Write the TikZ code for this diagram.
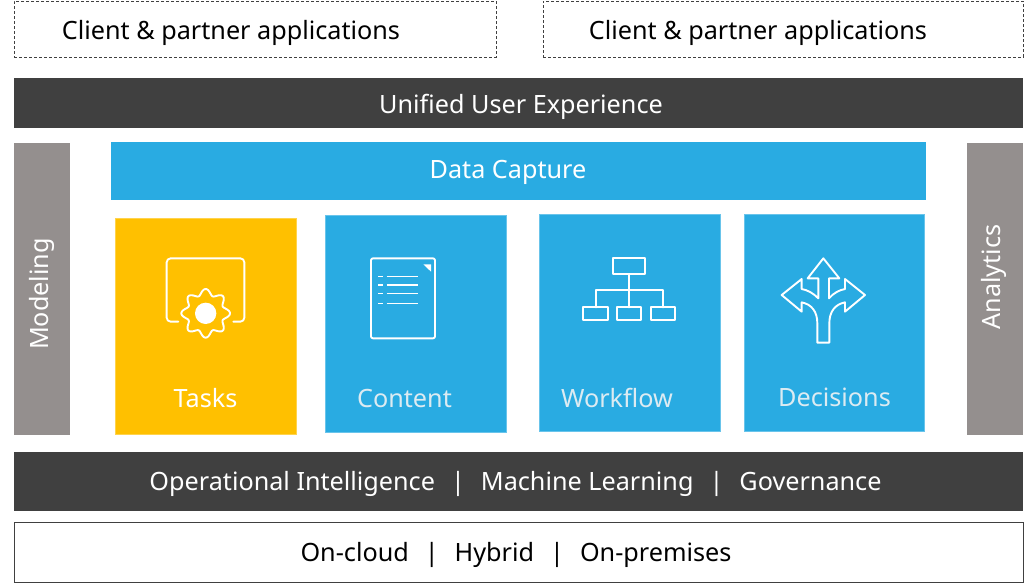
\documentclass[tikz,border=0pt]{standalone}
\usepackage{fontspec}
\setmainfont{Noto Sans}
\definecolor{darkbar}{HTML}{404040}
\definecolor{skyblue}{HTML}{29ABE2}
\definecolor{amber}{HTML}{FFC000}
\definecolor{stone}{HTML}{948F8E}
\definecolor{softwhite}{HTML}{DCEBF2}
\tikzset{
  box/.style={rectangle,inner sep=0pt,outer sep=0pt,align=center},
  dashbox/.style={box,draw=darkbar,densely dashed,line width=0.6pt},
  darkbox/.style={box,fill=darkbar},
  bluebox/.style={box,fill=skyblue},
  greybox/.style={box,fill=stone},
  tile/.style={box,fill=skyblue,draw=skyblue!70!white,line width=0.5pt},
  label/.style={inner sep=0pt,outer sep=0pt,font=\fontsize{25.2}{30}\selectfont},
  icon/.style={draw=white,line width=1.9pt,line join=round,line cap=round},
  iconthin/.style={draw=white,line width=1.4pt,line join=miter}
}
\begin{document}
\begin{tikzpicture}[x=1pt,y=-1pt]
\useasboundingbox (0,0) rectangle (1024,584);
% top boxes
\node[dashbox,minimum width=482pt,minimum height=56pt] (clientA) at (255,29) {};
\node[label,text=black] (clientAt) at (231,33) {Client \& partner applications};
\node[dashbox,minimum width=480pt,minimum height=56pt] (clientB) at (783,29) {};
\node[label,text=black] (clientBt) at (758,33) {Client \& partner applications};
% bars
\node[darkbox,minimum width=1009pt,minimum height=50pt] (ux) at (518.5,103) {};
\node[label,text=white] (uxt) at (521,107) {Unified User Experience};
\node[greybox,minimum width=56pt,minimum height=292pt] (modeling) at (42,289) {};
\node[label,text=white,rotate=90] (modelingt) at (41.5,294) {Modeling};
\node[greybox,minimum width=56pt,minimum height=292pt] (analytics) at (995,289) {};
\node[label,text=white,rotate=90] (analyticst) at (994,277) {Analytics};
\node[bluebox,minimum width=815pt,minimum height=58pt] (capture) at (518.5,171) {};
\node[label,text=white] (capturet) at (508,172) {Data Capture};
% tiles
\node[tile,fill=amber,draw=amber!70!white,minimum width=180.5pt,minimum height=216pt] (tasks) at (205.5,326) {};
\node[label,text=white] (taskst) at (205.5,398.5) {Tasks};
\node[tile,minimum width=180.5pt,minimum height=217pt] (content) at (415.5,323.5) {};
\node[label,text=softwhite] (contentt) at (404.5,398) {Content};
\node[tile,minimum width=180.5pt,minimum height=217pt] (workflow) at (629.5,322.5) {};
\node[label,text=softwhite] (workflowt) at (617,398) {Workflow};
\node[tile,minimum width=180pt,minimum height=217pt] (decisions) at (834,322.5) {};
\node[label,text=softwhite] (decisionst) at (834.5,397) {Decisions};
% bottom bars
\node[darkbox,minimum width=1009pt,minimum height=59pt] (ops) at (518.5,481.5) {};
\node[label,text=white] (opst) at (515.5,484) {Operational Intelligence\hspace{16pt}|\hspace{16pt}Machine Learning\hspace{16pt}|\hspace{16pt}Governance};
\node[box,draw=darkbar,line width=0.8pt,fill=white,minimum width=1009pt,minimum height=60pt] (deploy) at (518.5,552) {};
\node[label,text=black] (deployt) at (516,555) {On-cloud\hspace{16pt}|\hspace{16pt}Hybrid\hspace{16pt}|\hspace{16pt}On-premises};
% tasks icon
\begin{scope}[shift={(115,215)},scale=1/3]
\draw[icon,rounded corners=4pt] (190,320) -- (155,320) -- (155,130) -- (388,130) -- (388,320) -- (355,320);
\draw[icon,smooth,samples=145,domain=0:360] plot ({272+(64+9*cos(8*\x))*cos(\x)},{295+(64+9*cos(8*\x))*sin(\x)});
\fill[white] (272,295) circle (32);
\end{scope}
% content icon
\begin{scope}[shift={(115,215)},scale=1/3]
\draw[icon,rounded corners=2pt] (768,130) rectangle (960,370);
\fill[white] (925,148) -- (948,148) -- (948,170) -- cycle;
\foreach \yy in {185,210,236,265} {
  \draw[iconthin] (790,\yy) -- (803,\yy);
  \draw[iconthin] (815,\yy) -- (910,\yy);
}
\end{scope}
% workflow icon
\begin{scope}[shift={(535,215)},scale=1/3]
\draw[icon] (233,130) rectangle (331,178);
\draw[icon] (283,178) -- (283,277);
\draw[icon] (183,277) -- (183,225) -- (383,225) -- (383,277);
\draw[icon] (145,277) rectangle (218,315);
\draw[icon] (246,277) rectangle (318,315);
\draw[icon] (347,277) rectangle (420,315);
\end{scope}
% decisions icon
\begin{scope}[shift={(535,215)},scale=1/3]
\draw[icon,line cap=butt] (865,130) -- (913,190) -- (882,190) -- (882,250)
  .. controls (895,235) and (912,225) .. (930,222) -- (930,192) -- (990,240) -- (930,290) -- (930,262)
  .. controls (900,268) and (883,290) .. (883,325) -- (883,383) -- (847,383) -- (847,325)
  .. controls (847,290) and (830,268) .. (800,262) -- (800,290) -- (740,240) -- (800,192) -- (800,222)
  .. controls (818,225) and (835,235) .. (850,250) -- (850,190) -- (818,190) -- cycle;
\end{scope}
\end{tikzpicture}
\end{document}
